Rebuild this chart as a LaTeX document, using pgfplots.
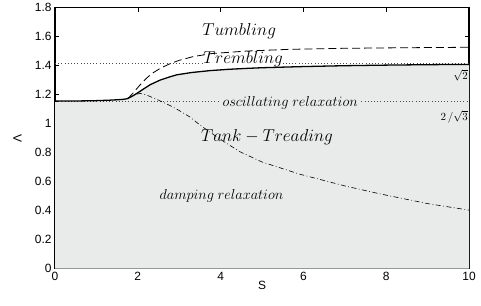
\documentclass[border=0pt]{standalone}
\usepackage{fontspec}
\setmainfont{Liberation Sans}
\usepackage{pgfplots}
\pgfplotsset{compat=1.18}
\usepackage{pgfplotstable}
\definecolor{fillgray}{RGB}{233,234,234}
\pgfplotstableread{
S L
0 1.1547
0.5 1.1555
1.0 1.158
1.3 1.161
1.5 1.164
1.65 1.167
1.75 1.172
1.85 1.186
2.0 1.212
2.13 1.237
2.3 1.268
2.54 1.300
2.75 1.320
2.94 1.336
3.3 1.352
3.74 1.365
4.19 1.374
4.6 1.380
5.0 1.385
6.0 1.393
7.0 1.399
8.0 1.403
9.0 1.406
10 1.408
}\solid
\pgfplotstableread{
S L
1.76 1.172
1.9 1.215
2.05 1.265
2.2 1.31
2.34 1.345
2.55 1.382
2.78 1.413
3.0 1.436
3.34 1.462
3.8 1.483
4.63 1.500
5.68 1.512
7 1.519
8.5 1.523
10 1.526
}\dashedc
\pgfplotstableread{
S L
1.75 1.172
1.9 1.196
2.05 1.208
2.2 1.198
2.45 1.168
2.78 1.124
3.0 1.09
3.26 1.045
3.5 0.99
4.0 0.89
4.47 0.805
5.0 0.735
5.92 0.650
7.0 0.570
7.85 0.515
9.0 0.448
10 0.403
}\dashdot
\begin{document}
\begin{tikzpicture}
\begin{axis}[
  name=ax,
  scale only axis,
  width=414bp, height=261bp,
  xmin=0, xmax=10, ymin=0, ymax=1.8,
  xtick={0,2,...,10},
  ytick={0,0.2,...,1.8},
  tick align=inside,
  major tick length=4bp,
  axis line style={line width=1.1pt},
  every tick/.style={black, line width=0.6pt},
  tick label style={font=\fontsize{12}{14}\selectfont},
  /pgf/number format/assume math mode=true,
  xlabel={S},
  ylabel={Λ},
  xlabel style={at={(axis description cs:0.5,0)}, anchor=north, inner sep=0pt, yshift=-12bp, font=\fontsize{12}{14}\selectfont},
  ylabel style={at={(axis description cs:-0.08,0.5)}, anchor=south, inner sep=0pt, font=\fontsize{12}{14}\selectfont},
  clip=true,
]
\addplot[fill=fillgray, draw=none] table[x=S,y=L] {\solid} \closedcycle;
\addplot[black!70, line width=0.5pt, dash pattern=on 0.6pt off 2.6pt] coordinates {(0,1.41421) (3.55,1.41421)};
\addplot[black!70, line width=0.5pt, dash pattern=on 0.6pt off 2.6pt] coordinates {(5.5,1.41421) (10,1.41421)};
\addplot[black!70, line width=0.5pt, dash pattern=on 0.6pt off 2.6pt] coordinates {(0,1.1547) (3.95,1.1547)};
\addplot[black!70, line width=0.5pt, dash pattern=on 0.6pt off 2.6pt] coordinates {(7.4,1.1547) (10,1.1547)};
\addplot[black, line width=1.3pt] table[x=S,y=L] {\solid};
\addplot[black, line width=0.8pt, dash pattern=on 8pt off 4pt] table[x=S,y=L] {\dashedc};
\addplot[black, line width=0.6pt, dash pattern=on 5pt off 2.5pt on 0.8pt off 2.5pt] table[x=S,y=L] {\dashdot};
\node[font=\fontsize{17}{20}\selectfont] at (axis cs:4.45,1.64) {$Tumbling$};
\node[font=\fontsize{17}{20}\selectfont] at (axis cs:4.54,1.445) {$Trembling$};
\node[font=\fontsize{17}{20}\selectfont] at (axis cs:5.12,0.905) {$Tank-Treading$};
\node[font=\fontsize{13.5}{16}\selectfont] at (axis cs:5.68,1.145) {$oscillating\ relaxation$};
\node[font=\fontsize{13.5}{16}\selectfont] at (axis cs:4.02,0.50) {$damping\ relaxation$};
\node[font=\fontsize{11}{13}\selectfont, anchor=east, inner sep=1pt] at (axis cs:10,1.335) {$\sqrt{2}$};
\node[font=\fontsize{11}{13}\selectfont, anchor=east, inner sep=1pt] at (axis cs:10,1.048) {$2\,/\sqrt{3}$};
\end{axis}
\path[use as bounding box] ([shift={(-55bp,-37bp)}]ax.south west) rectangle ([shift={(12bp,5bp)}]ax.north east);
\end{tikzpicture}
\end{document}
